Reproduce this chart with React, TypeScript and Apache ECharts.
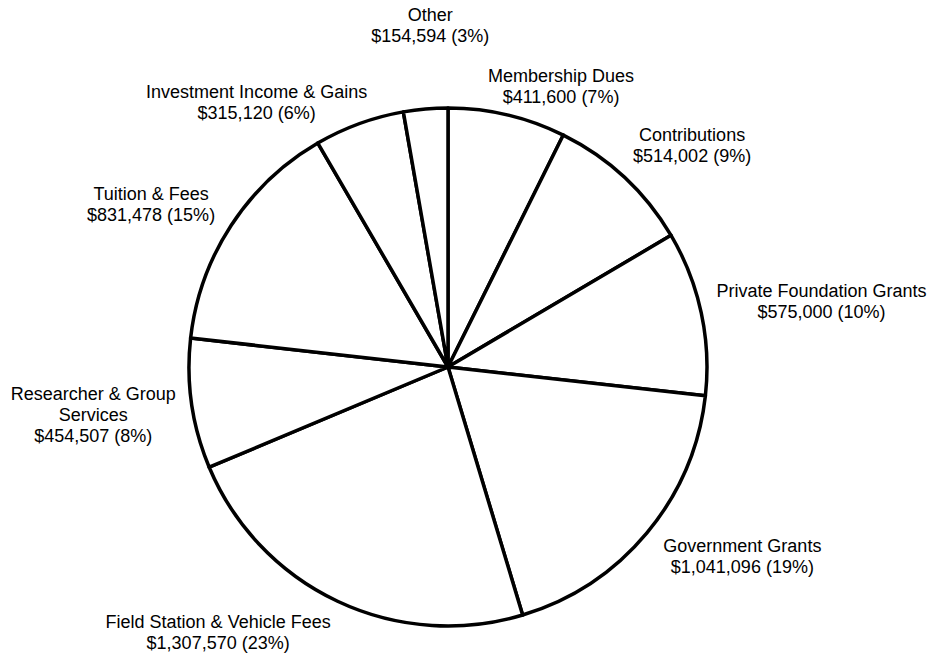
import { useEffect, useRef } from "react";
import * as echarts from "echarts";

const CATEGORIES = [
  "Membership Dues",
  "Contributions",
  "Private Foundation Grants",
  "Government Grants",
  "Field Station & Vehicle Fees",
  "Researcher & Group\nServices",
  "Tuition & Fees",
  "Investment Income & Gains",
  "Other",
];
const AMOUNTS = [411600, 514002, 575000, 1041096, 1307570, 454507, 831478, 315120, 154594];

// layout constants (not data)
const W = 940;
const H = 656;
const CX = 448;
const CY = 367;
const R = 259;
const GAP = 13;
const LABEL_ANGLE_NUDGE = [8.7, 4.8, 2.2, -7.1, 15.6, 0.5, -4.5, -15.8, 2];
const LABEL_RADIAL_NUDGE = [-16, 0, 0, 0, -10, 0, 0, -27, 46];

export default function App() {
  const ref = useRef<HTMLDivElement>(null);
  useEffect(() => {
    const chart = echarts.init(ref.current!, null, { renderer: "svg" });
    const total = AMOUNTS.reduce((a, b) => a + b, 0);
    const mids: number[] = [];
    let cum = 0;
    AMOUNTS.forEach((v) => {
      mids.push(((cum + v / 2) / total) * 360);
      cum += v;
    });
    chart.setOption({
      animation: false,
      backgroundColor: "#ffffff",
      series: [
        {
          type: "pie",
          center: [CX, CY],
          radius: [0, R],
          startAngle: 90,
          clockwise: true,
          avoidLabelOverlap: false,
          silent: true,
          emphasis: { disabled: true },
          itemStyle: { color: "#ffffff", borderColor: "#000000", borderWidth: 3.5 },
          label: {
            show: true,
            position: "outside",
            formatter: (p: any) =>
              `${p.name}\n$${AMOUNTS[p.dataIndex].toLocaleString("en-US")} (${Math.round(
                (AMOUNTS[p.dataIndex] / total) * 100
              )}%)`,
            color: "#000000",
            fontFamily: "'Liberation Sans', Arial, sans-serif",
            fontSize: 18,
            lineHeight: 21,
            align: "center",
          },
          labelLine: { show: false },
          labelLayout: (params: any) => {
            const i = params.dataIndex;
            const th = ((mids[i] + LABEL_ANGLE_NUDGE[i]) * Math.PI) / 180;
            const dx = Math.sin(th);
            const dy = -Math.cos(th);
            const w = params.labelRect.width;
            const h = params.labelRect.height;
            const support = (w / 2) * Math.abs(dx) + (h / 2) * Math.abs(dy);
            const dist = R + GAP + support + LABEL_RADIAL_NUDGE[i];
            let x = CX + dx * dist;
            let y = CY + dy * dist;
            y = Math.max(h / 2 + 2, Math.min(H - h / 2 - 3, y));
            x = Math.max(w / 2 + 2, Math.min(W - w / 2 - 2, x));
            return { x, y, align: "center", verticalAlign: "middle" };
          },
          data: CATEGORIES.map((name, i) => ({ name, value: AMOUNTS[i] })),
        },
      ],
    });
    return () => chart.dispose();
  }, []);
  return (
    <div
      ref={ref}
      style={{ position: "fixed", left: 0, top: 0, width: W, height: H, background: "#fff" }}
    />
  );
}
